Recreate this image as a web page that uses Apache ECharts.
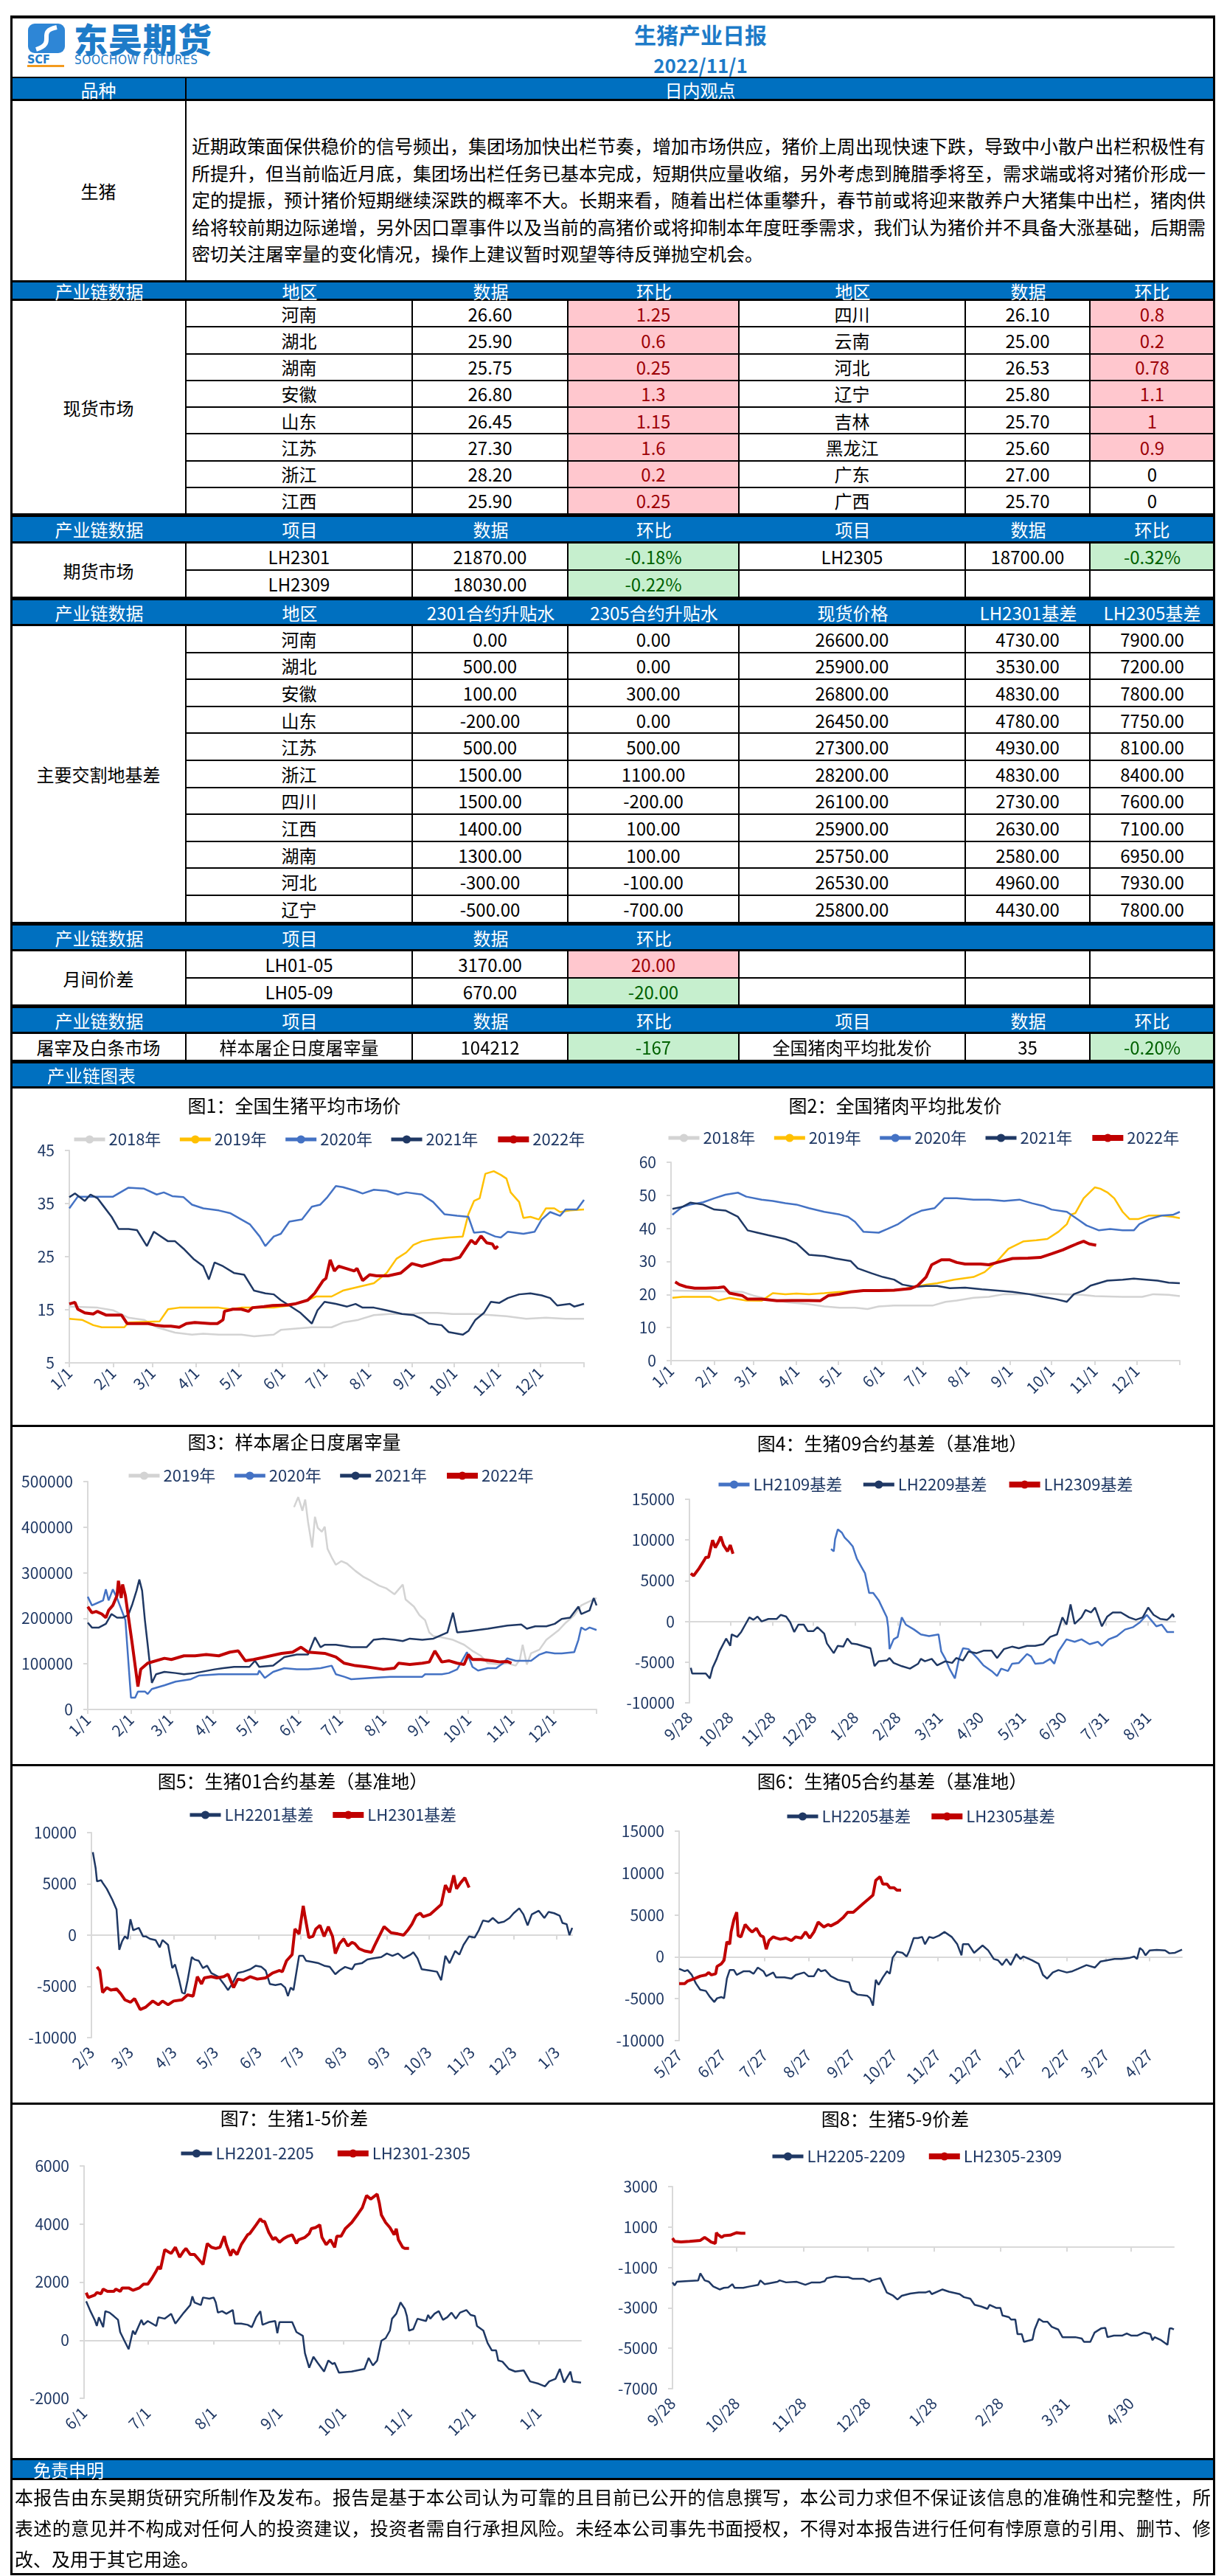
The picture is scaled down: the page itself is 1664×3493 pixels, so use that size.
<!DOCTYPE html>
<html lang="zh-CN">
<head>
<meta charset="utf-8">
<title>生猪产业日报</title>
<script src="https://cdn.jsdelivr.net/npm/echarts@6.0.0/dist/echarts.min.js"></script>
<style>
  body { margin: 0; background: #fff; font-family: "Noto Sans CJK SC", "Noto Sans", sans-serif; }
  #page { position: relative; width: 1664px; height: 3493px; overflow: hidden; }
  .cell { position: absolute; box-sizing: border-box; display: flex; align-items: center; justify-content: center; font-size: 24px; color: #000; white-space: nowrap; }
  .blue { background: #0070C0; }
  .hd { color: #fff; }
  .up { background: #FFC7CE; color: #9C0006; }
  .down { background: #C6EFCE; color: #006100; }
  .ln { position: absolute; box-sizing: border-box; font-size: 25px; white-space: nowrap; text-align: justify; text-align-last: justify; }
  .ln.last { text-align: left; text-align-last: left; }
  .chart { position: absolute; }
  .bar { position: absolute; left: 16px; width: 1630px; height: 3px; background: #000; z-index: 5; }
</style>
</head>
<body>
<div id="page">
  <!-- 标题区 -->
  <div class="cell" style="left:16px;top:21px;width:1630px;height:86px;border-top:4px solid #000;border-bottom:3px solid #000;"></div>
  <svg style="position:absolute;left:36px;top:31px" width="54" height="42" viewBox="0 0 54 42">
    <rect x="2" y="1" width="50" height="40" rx="9" fill="#2E86D6"/>
    <path d="M41 6 C 12 12, 42 27, 13 36" stroke="#fff" stroke-width="6" fill="none"/>
  </svg>
  <div style="position:absolute;left:100px;top:22px;font-size:46px;font-weight:900;color:#1E7BC8;letter-spacing:1px;line-height:58px;">东吴期货</div>
  <div style="position:absolute;left:37px;top:71px;font:bold 16px 'DejaVu Sans Condensed';color:#1E7BC8;">SCF</div>
  <div style="position:absolute;left:37px;top:88px;width:50px;height:3px;background:#F39A1E;"></div>
  <div style="position:absolute;left:101px;top:71px;font:17px 'DejaVu Sans Condensed';color:#1E7BC8;letter-spacing:0.6px;">SOOCHOW FUTURES</div>
  <div class="cell" style="left:650px;top:27px;width:600px;height:38px;font-size:30px;font-weight:bold;color:#1E7BC8;">生猪产业日报</div>
  <div class="cell" style="left:650px;top:72px;width:600px;height:30px;font-size:26px;font-weight:bold;color:#1E7BC8;">2022/11/1</div>

  <div id="c1" class="chart" style="left:16px;top:1475px;width:816px;height:458px;"></div>
  <div id="c2" class="chart" style="left:832px;top:1475px;width:814px;height:458px;"></div>
  <div id="c3" class="chart" style="left:16px;top:1933px;width:816px;height:460px;"></div>
  <div id="c4" class="chart" style="left:832px;top:1933px;width:814px;height:460px;"></div>
  <div id="c5" class="chart" style="left:16px;top:2393px;width:816px;height:459px;"></div>
  <div id="c6" class="chart" style="left:832px;top:2393px;width:814px;height:459px;"></div>
  <div id="c7" class="chart" style="left:16px;top:2852px;width:816px;height:482px;"></div>
  <div id="c8" class="chart" style="left:832px;top:2852px;width:814px;height:482px;"></div>
  <div class="bar" style="top:1932px"></div>
  <div class="bar" style="top:2392px"></div>
  <div class="bar" style="top:2851px"></div>

  <div style="position:absolute;left:14px;top:21px;width:1634px;height:3471px;box-sizing:border-box;border:3px solid #000;z-index:6;pointer-events:none;"></div>
</div>

<script>
// ---------- 日内观点 ----------
const viewLines = [
  '近期政策面保供稳价的信号频出，集团场加快出栏节奏，增加市场供应，猪价上周出现快速下跌，导致中小散户出栏积极性有',
  '所提升，但当前临近月底，集团场出栏任务已基本完成，短期供应量收缩，另外考虑到腌腊季将至，需求端或将对猪价形成一',
  '定的提振，预计猪价短期继续深跌的概率不大。长期来看，随着出栏体重攀升，春节前或将迎来散养户大猪集中出栏，猪肉供',
  '给将较前期边际递增，另外因口罩事件以及当前的高猪价或将抑制本年度旺季需求，我们认为猪价并不具备大涨基础，后期需',
  '密切关注屠宰量的变化情况，操作上建议暂时观望等待反弹抛空机会。'
];
const disclaimLines = [
  '本报告由东吴期货研究所制作及发布。报告是基于本公司认为可靠的且目前已公开的信息撰写，本公司力求但不保证该信息的准确性和完整性，所',
  '表述的意见并不构成对任何人的投资建议，投资者需自行承担风险。未经本公司事先书面授权，不得对本报告进行任何有悖原意的引用、删节、修',
  '改、及用于其它用途。'
];

// ---------- 表格数据 ----------
const hdrSpot = ['产业链数据', '地区', '数据', '环比', '地区', '数据', '环比'];
const hdrItem = ['产业链数据', '项目', '数据', '环比', '项目', '数据', '环比'];
const hdrBasis = ['产业链数据', '地区', '2301合约升贴水', '2305合约升贴水', '现货价格', 'LH2301基差', 'LH2305基差'];
const hdrSpread = ['产业链数据', '项目', '数据', '环比', '', '', ''];

const spotRegionsL = ['河南', '湖北', '湖南', '安徽', '山东', '江苏', '浙江', '江西'];
const spotPricesL = ['26.60', '25.90', '25.75', '26.80', '26.45', '27.30', '28.20', '25.90'];
const spotChgL = ['1.25', '0.6', '0.25', '1.3', '1.15', '1.6', '0.2', '0.25'];
const spotRegionsR = ['四川', '云南', '河北', '辽宁', '吉林', '黑龙江', '广东', '广西'];
const spotPricesR = ['26.10', '25.00', '26.53', '25.80', '25.70', '25.60', '27.00', '25.70'];
const spotChgR = ['0.8', '0.2', '0.78', '1.1', '1', '0.9', '0', '0'];

const futNames = ['LH2301', 'LH2305', 'LH2309'];
const futPrices = ['21870.00', '18700.00', '18030.00'];
const futChg = ['-0.18%', '-0.32%', '-0.22%'];

const basisRegions = ['河南', '湖北', '安徽', '山东', '江苏', '浙江', '四川', '江西', '湖南', '河北', '辽宁'];
const prem2301 = ['0.00', '500.00', '100.00', '-200.00', '500.00', '1500.00', '1500.00', '1400.00', '1300.00', '-300.00', '-500.00'];
const prem2305 = ['0.00', '0.00', '300.00', '0.00', '500.00', '1100.00', '-200.00', '100.00', '100.00', '-100.00', '-700.00'];
const basisSpot = ['26600.00', '25900.00', '26800.00', '26450.00', '27300.00', '28200.00', '26100.00', '25900.00', '25750.00', '26530.00', '25800.00'];
const basis2301 = ['4730.00', '3530.00', '4830.00', '4780.00', '4930.00', '4830.00', '2730.00', '2630.00', '2580.00', '4960.00', '4430.00'];
const basis2305 = ['7900.00', '7200.00', '7800.00', '7750.00', '8100.00', '8400.00', '7600.00', '7100.00', '6950.00', '7930.00', '7800.00'];

const spreadNames = ['LH01-05', 'LH05-09'];
const spreadValues = ['3170.00', '670.00'];
const spreadChg = ['20.00', '-20.00'];

const slaughterItems = ['样本屠企日度屠宰量', '全国猪肉平均批发价'];
const slaughterValues = ['104212', '35'];
const slaughterChg = ['-167', '-0.20%'];

// ---------- 表格绘制 ----------
const colX = [16, 253, 560, 771, 1003, 1310, 1479, 1646];
const page = document.getElementById('page');
const LINE = '2px solid #000';
const THICK = '3px solid #000';

function cell(x, y, w, h, text, cls, css) {
  const d = document.createElement('div');
  d.className = 'cell ' + (cls || '');
  d.style.cssText = `left:${x}px;top:${y}px;width:${w}px;height:${h}px;` + (css || '');
  d.textContent = text;
  page.appendChild(d);
  return d;
}
function tone(v) {
  const n = parseFloat(v);
  return n > 0 ? 'up' : n < 0 ? 'down' : '';
}
function header(y, h, labels) {
  cell(16, y, 1630, h, '', 'blue', `border-top:${THICK};border-bottom:${THICK};`);
  labels.forEach((t, i) => cell(colX[i], y, colX[i + 1] - colX[i], h, t, 'hd'));
}
function rows(top, h, label, data, tones) {
  cell(colX[0], top, colX[1] - colX[0], h * data.length, label, '', `border-right:${LINE};border-bottom:${LINE};`);
  data.forEach((r, j) => {
    const y = top + h * j;
    r.forEach((t, i) => {
      const cls = tones && tones[i] ? tone(t) : '';
      cell(colX[i + 1], y, colX[i + 2] - colX[i + 1], h, t, cls,
        `border-right:${i < 5 ? LINE : 'none'};border-bottom:${LINE};`);
    });
  });
}
function textLine(x, y, w, h, text, cls) {
  const d = document.createElement('div');
  d.className = 'ln ' + (cls || '');
  d.style.cssText = `left:${x}px;top:${y}px;width:${w}px;height:${h}px;line-height:${h}px;`;
  d.textContent = text;
  page.appendChild(d);
}

// 品种 / 日内观点
cell(16, 106, 1630, 31, '', 'blue', `border-bottom:${THICK};`);
cell(16, 106, 237, 31, '品种', 'hd', `border-right:${LINE};`);
cell(253, 106, 1393, 31, '日内观点', 'hd');
cell(16, 137, 237, 243, '生猪', '', `border-right:${LINE};`);
viewLines.forEach((t, i) => textLine(260, 179 + i * 36.5, 1375, 36.5, t, i === viewLines.length - 1 ? 'last' : ''));

// 现货市场
header(380, 28, hdrSpot);
rows(408, 36.25, '现货市场',
  spotRegionsL.map((r, i) => [r, spotPricesL[i], spotChgL[i], spotRegionsR[i], spotPricesR[i], spotChgR[i]]),
  [0, 0, 1, 0, 0, 1]);

// 期货市场
header(698, 39, hdrItem);
rows(737, 37, '期货市场', [
  [futNames[0], futPrices[0], futChg[0], futNames[1], futPrices[1], futChg[1]],
  [futNames[2], futPrices[2], futChg[2], '', '', '']
], [0, 0, 1, 0, 0, 1]);

// 主要交割地基差
header(811, 38, hdrBasis);
rows(849, 36.6, '主要交割地基差',
  basisRegions.map((r, i) => [r, prem2301[i], prem2305[i], basisSpot[i], basis2301[i], basis2305[i]]));

// 月间价差
header(1252, 38, hdrSpread);
rows(1290, 37, '月间价差',
  spreadNames.map((n, i) => [n, spreadValues[i], spreadChg[i], '', '', '']), [0, 0, 1]);

// 屠宰及白条市场
header(1364, 38, hdrItem);
rows(1402, 37, '屠宰及白条市场', [
  [slaughterItems[0], slaughterValues[0], slaughterChg[0], slaughterItems[1], slaughterValues[1], slaughterChg[1]]
], [0, 0, 1, 0, 0, 1]);

// 产业链图表
cell(16, 1439, 1630, 37, '', 'blue', `border-top:${THICK};border-bottom:${THICK};`);
cell(64, 1439, 200, 37, '产业链图表', 'hd', 'justify-content:flex-start;');

// 免责申明
cell(16, 3333, 1630, 30, '', 'blue', `border-top:${THICK};border-bottom:${THICK};`);
cell(45, 3333, 200, 30, '免责申明', 'hd', 'justify-content:flex-start;');
disclaimLines.forEach((t, i) => textLine(20, 3364 + i * 42, 1622, 42, t, i === disclaimLines.length - 1 ? 'last' : ''));

// ---------- 图表数据 ----------
const C2018 = '#D3D3D3', C2019 = '#FFC000', C2020 = '#4472C4', C2021 = '#1F3864', C2022 = '#C00000';
const NAVY = '#1F3864';
const AXIS_GRAY = '#D9D9D9';
const FONT = '"Noto Sans CJK SC", "Noto Sans", sans-serif';

const yearTicks = [0, 31, 59, 90, 120, 151, 181, 212, 243, 273, 304, 334, 365];
const yearLabels = ['1/1', '2/1', '3/1', '4/1', '5/1', '6/1', '7/1', '8/1', '9/1', '10/1', '11/1', '12/1'];

// 图1：全国生猪平均市场价  [日序, 元/公斤]
const c1y2018 = [[0,15.6],[20,15.4],[31,14.9],[42,13.5],[53,13.1],[62,11.7],[75,10.7],[87,10.3],[95,10.5],[106,10.3],[122,10.3],[131,10.0],[145,10.3],[150,11.2],[172,11.7],[186,11.7],[194,12.6],[205,13.1],[216,14.0],[227,14.2],[241,14.2],[250,14.4],[261,14.4],[272,14.2],[288,14.2],[299,14.0],[310,13.8],[324,13.3],[338,13.5],[352,13.3],[365,13.3]];
const c1y2019 = [[0,13.3],[9,13.1],[17,12.1],[23,11.7],[39,11.7],[42,12.6],[64,12.8],[70,15.1],[78,15.4],[106,15.4],[114,15.1],[122,15.4],[145,15.4],[156,15.8],[169,16.8],[175,17.5],[186,17.5],[194,18.6],[205,19.3],[216,20.0],[225,21.9],[232,24.6],[239,25.8],[244,27.2],[250,27.9],[258,28.3],[269,28.6],[279,28.8],[283,33.0],[287,35.5],[291,36.0],[295,40.6],[301,41.1],[306,40.4],[310,39.7],[313,37.1],[319,35.3],[322,32.3],[327,32.5],[333,32.0],[338,34.1],[344,34.1],[348,33.4],[355,33.7],[365,33.9]];
const c1y2020 = [[0,34.1],[6,36.3],[31,36.3],[42,38.0],[53,37.8],[62,36.7],[67,37.1],[73,36.4],[81,36.2],[87,34.8],[95,34.1],[106,33.7],[114,33.2],[122,32.0],[128,31.1],[135,28.8],[139,27.0],[145,28.8],[150,29.3],[156,31.6],[165,32.0],[172,34.4],[178,34.8],[183,36.2],[189,38.3],[194,38.1],[203,37.4],[208,36.9],[216,37.6],[225,37.4],[233,36.7],[239,37.1],[250,36.7],[258,35.3],[266,33.0],[275,32.7],[283,32.5],[287,29.5],[294,29.7],[302,28.8],[306,28.6],[311,29.7],[322,29.3],[330,29.7],[335,32.0],[341,33.4],[348,32.7],[352,33.9],[360,33.9],[365,35.7]];
const c1y2021 = [[0,36.2],[4,36.9],[11,35.5],[15,36.7],[20,36.0],[24,34.6],[30,32.5],[35,30.2],[42,30.2],[48,30.0],[55,27.0],[60,29.7],[70,27.9],[75,27.9],[81,26.5],[88,24.6],[95,23.2],[99,20.7],[103,23.9],[109,23.2],[117,21.9],[124,21.6],[131,18.6],[139,18.1],[145,17.9],[150,16.8],[156,15.8],[164,14.4],[172,12.4],[176,14.9],[181,16.5],[189,16.1],[197,15.6],[203,16.1],[208,15.4],[216,15.4],[225,14.9],[236,14.2],[244,14.0],[250,13.3],[255,12.4],[264,12.1],[269,10.8],[279,10.3],[283,11.0],[288,13.1],[294,14.4],[299,16.5],[305,16.3],[311,17.2],[319,17.9],[327,18.1],[335,17.7],[341,17.2],[346,15.8],[355,16.1],[358,15.6],[365,16.1]];
const c1y2022 = [[0,16.1],[4,16.4],[6,15.1],[11,14.4],[17,14.2],[20,14.7],[26,14.0],[31,14.0],[37,14.0],[41,12.4],[48,12.4],[56,12.4],[61,12.1],[67,11.9],[72,11.9],[78,11.7],[83,12.4],[89,12.6],[100,12.4],[105,12.4],[109,13.1],[110,14.7],[116,15.1],[122,15.1],[127,14.7],[130,15.4],[138,15.6],[144,15.8],[155,15.9],[160,16.1],[169,16.8],[174,18.1],[180,20.5],[182,20.9],[185,24.4],[188,22.3],[191,23.2],[196,22.8],[202,22.3],[204,22.8],[208,20.5],[213,21.6],[218,21.4],[226,21.4],[235,21.9],[243,23.7],[250,23.2],[257,23.7],[265,24.4],[270,24.4],[277,24.9],[281,26.5],[285,28.1],[288,27.4],[292,28.9],[296,27.6],[300,27.4],[302,26.5],[304,27.0]];

// 图2：全国猪肉平均批发价
const c2y2018 = [[1,21.2],[28,21.0],[51,20.8],[59,19.7],[70,18.6],[84,17.6],[98,17.1],[110,16.4],[121,16.0],[132,16.0],[141,15.6],[149,16.4],[160,16.7],[177,16.7],[188,16.7],[197,17.8],[205,18.2],[217,19.0],[228,19.3],[239,20.1],[253,20.1],[267,20.3],[281,20.1],[295,19.9],[304,19.5],[324,19.3],[338,19.3],[346,20.1],[357,19.9],[365,19.5]];
const c2y2019 = [[1,19.0],[8,19.3],[28,19.3],[34,18.2],[42,19.0],[54,18.2],[65,18.1],[73,20.4],[82,20.1],[90,20.3],[99,20.1],[110,20.4],[121,20.8],[132,21.0],[149,21.2],[160,21.2],[175,22.3],[183,23.0],[191,23.4],[203,24.5],[217,25.3],[225,26.8],[234,30.1],[242,33.8],[253,36.1],[262,36.4],[270,36.8],[278,39.0],[284,41.3],[287,44.2],[290,44.6],[296,49.1],[304,52.4],[308,52.0],[313,50.9],[318,49.1],[324,45.0],[329,42.8],[335,42.8],[343,43.9],[352,43.9],[360,43.5],[365,43.1]];
const c2y2020 = [[1,44.1],[8,46.5],[14,47.2],[23,47.9],[31,49.1],[39,50.2],[48,50.8],[54,49.6],[65,48.7],[73,48.3],[82,47.6],[90,47.2],[99,46.1],[110,45.0],[121,44.2],[127,43.5],[132,42.0],[138,39.0],[149,38.7],[155,39.8],[163,41.3],[172,43.9],[180,45.4],[189,46.1],[196,49.1],[205,49.1],[217,48.7],[228,48.7],[239,48.3],[250,48.7],[259,47.6],[267,46.8],[273,45.7],[284,45.0],[293,42.4],[298,40.9],[307,39.4],[315,39.8],[324,39.4],[332,39.4],[336,41.3],[343,42.8],[352,43.9],[360,44.1],[365,45.0]];
const c2y2021 = [[1,45.9],[8,46.5],[14,47.8],[23,47.2],[31,45.7],[39,45.4],[48,43.5],[55,39.4],[62,38.7],[70,37.9],[82,36.8],[90,35.5],[99,32.0],[110,31.6],[118,30.9],[129,30.1],[134,27.9],[144,26.4],[152,25.3],[160,24.5],[166,23.0],[175,22.3],[183,22.6],[191,22.6],[200,21.9],[211,22.1],[223,21.6],[234,21.2],[245,20.8],[257,20.1],[267,19.3],[276,18.6],[284,17.8],[289,20.1],[296,21.2],[301,22.7],[313,24.2],[324,24.5],[332,24.8],[341,24.5],[349,24.2],[357,23.6],[365,23.4]];
const c2y2022 = [[3,23.8],[6,23.0],[11,22.3],[17,21.9],[25,21.9],[34,22.1],[38,22.3],[42,20.4],[51,19.7],[55,18.6],[65,18.6],[76,18.1],[87,18.2],[99,18.2],[107,18.1],[113,19.7],[121,20.1],[129,20.8],[138,21.2],[149,21.2],[160,21.3],[172,21.8],[177,22.7],[183,25.3],[187,29.0],[194,30.5],[200,30.5],[205,29.7],[211,29.2],[222,29.2],[228,29.0],[234,29.7],[245,30.9],[256,31.0],[265,31.2],[273,32.3],[281,33.5],[287,34.6],[291,35.3],[296,36.1],[300,35.3],[305,34.9]];

// 图3：样本屠企日度屠宰量
const c3y2019 = [[148,444000],[151,466000],[154,436000],[156,460600],[158,412000],[161,355300],[163,422800],[165,398500],[168,390000],[170,401000],[172,352600],[175,333700],[178,317500],[182,325600],[186,320000],[192,304000],[198,290500],[203,282400],[209,271600],[214,266000],[220,252700],[226,274000],[228,241600],[234,225700],[238,206800],[242,196000],[245,169000],[248,160900],[254,158200],[262,152800],[270,142000],[276,128500],[282,117700],[287,101500],[296,98800],[301,101500],[307,96100],[310,109600],[312,142000],[315,98800],[318,123100],[324,131300],[329,152800],[338,174400],[343,190600],[349,206800],[354,228400],[365,244600]];
const c3y2020 = [[0,247300],[3,228400],[7,233800],[11,239200],[13,263500],[15,239200],[18,263500],[21,244600],[27,196000],[31,25900],[34,25900],[36,39400],[41,39400],[43,34000],[46,44800],[55,52900],[63,61000],[74,66400],[80,74500],[94,77200],[105,77200],[122,77200],[123,85300],[127,69100],[133,82600],[141,90700],[150,88000],[158,88000],[167,90700],[175,96100],[178,77200],[184,71800],[189,66400],[203,69100],[217,71800],[231,71800],[240,71800],[242,77200],[254,77200],[259,79900],[265,88000],[269,109600],[272,125800],[276,93400],[280,85300],[287,90700],[293,90700],[298,101500],[301,112300],[307,106900],[318,106900],[324,120400],[329,125800],[335,123100],[340,123100],[349,125800],[352,152800],[354,179800],[357,174400],[360,179800],[365,174400]];
const c3y2021 = [[0,190600],[3,179800],[8,179800],[13,187900],[17,209500],[21,201400],[25,201400],[29,206800],[32,231000],[35,260800],[37,285000],[39,260800],[41,196000],[43,142000],[46,58300],[49,77200],[55,82600],[63,79900],[69,77200],[77,79900],[91,88000],[97,90700],[105,93400],[116,93400],[120,106900],[123,93400],[133,96100],[141,115000],[150,120400],[158,120400],[163,158200],[167,136600],[170,142000],[178,142000],[184,139300],[189,136600],[200,136600],[205,152800],[212,155500],[220,152800],[226,150100],[231,155500],[240,152800],[248,155500],[254,163600],[258,169000],[262,212200],[265,169000],[273,171700],[287,177100],[301,184100],[311,186300],[315,177100],[321,182500],[329,182500],[335,187900],[340,198700],[346,201400],[352,225700],[354,209500],[360,217600],[363,244600],[365,228400]];
const c3y2022 = [[0,225700],[3,212200],[6,214900],[10,209500],[13,201400],[15,217600],[18,228400],[21,250000],[22,282400],[24,244600],[25,274300],[27,250000],[32,142000],[36,50200],[38,88000],[43,101500],[55,112300],[60,109600],[69,117700],[77,117700],[85,120400],[94,117700],[102,125800],[108,128500],[113,106900],[119,109600],[127,115000],[139,123100],[147,125800],[153,136600],[158,125800],[170,123100],[178,115000],[184,101500],[192,96100],[200,93400],[212,88000],[220,90700],[223,101500],[231,98800],[240,101500],[245,104200],[249,128500],[254,104200],[259,106900],[265,101500],[270,98800],[273,120400],[276,109600],[282,109600],[290,106900],[296,104200],[301,105300],[304,101500]];

// 图4：生猪09合约基差  [距9/28天数, 元/吨]
const c4Ticks = [0, 30, 61, 91, 122, 153, 184, 214, 245, 275, 306, 337];
const c4Labels = ['9/28', '10/28', '11/28', '12/28', '1/28', '2/28', '3/31', '4/30', '5/31', '6/30', '7/31', '8/31'];
const c4lh2109 = [[104,8900],[106,8600],[107,10100],[109,11300],[112,10900],[114,10300],[117,9800],[120,9200],[123,7700],[127,6500],[129,5900],[132,3500],[135,3500],[139,2600],[145,500],[146,-700],[147,-3400],[150,-2200],[153,-1900],[156,500],[159,-400],[165,-1000],[170,-1600],[176,-1800],[183,-1600],[185,-3700],[188,-4600],[191,-5800],[195,-7000],[198,-4600],[201,-3300],[205,-3400],[212,-4600],[216,-5400],[222,-6100],[226,-6700],[229,-5800],[234,-6100],[237,-5200],[242,-5100],[248,-4000],[251,-4300],[254,-5200],[260,-5100],[265,-4600],[268,-5200],[271,-3700],[277,-2200],[283,-2500],[288,-2200],[294,-2800],[300,-2500],[303,-3000],[308,-2200],[314,-1800],[320,-1000],[326,-700],[331,-100],[336,800],[339,200],[343,-600],[347,-400],[351,-1300],[356,-1300]];
const c4lh2209 = [[1,-5700],[2,-6400],[12,-6400],[15,-7000],[17,-5700],[20,-4600],[22,-3700],[27,-2100],[30,-3000],[31,-1600],[35,-1900],[38,-1300],[41,-400],[44,500],[47,200],[50,600],[53,0],[58,300],[64,300],[67,800],[71,600],[74,-100],[77,-1300],[80,-400],[84,-400],[87,-1200],[91,-1200],[94,-700],[99,-1500],[101,-2700],[106,-3900],[109,-3000],[113,-3100],[116,-2100],[119,-2700],[123,-2800],[127,-3000],[133,-3300],[136,-5500],[139,-4900],[145,-4800],[147,-4500],[150,-5100],[156,-5500],[162,-5800],[168,-5200],[170,-4600],[173,-4900],[178,-4600],[182,-5400],[188,-4900],[193,-5100],[196,-4500],[201,-4800],[205,-3700],[211,-3900],[216,-3600],[222,-3600],[226,-4500],[231,-3400],[237,-3100],[242,-3300],[248,-3000],[254,-3000],[260,-2800],[265,-1900],[270,-1600],[274,500],[277,-400],[280,2100],[283,-300],[288,500],[291,1400],[295,1100],[298,1700],[303,-600],[307,600],[311,1100],[317,1100],[323,500],[328,200],[333,500],[337,1700],[341,800],[346,300],[351,200],[353,500],[355,900],[356,500]];
const c4lh2309 = [[1,5900],[3,5600],[7,6500],[11,7560],[12,7860],[14,7860],[17,9970],[19,9070],[21,9670],[23,10420],[25,9370],[28,8610],[30,9370],[32,8310]];

// 图5：生猪01合约基差  [距2/3天数]
const c5Ticks = [0, 28, 59, 89, 120, 150, 181, 212, 242, 273, 303, 334];
const c5Labels = ['2/3', '3/3', '4/3', '5/3', '6/3', '7/3', '8/3', '9/3', '10/3', '11/3', '12/3', '1/3'];
const c5lh2201 = [[1,8100],[3,6550],[4,5240],[7,5360],[8,5120],[11,4520],[15,3450],[18,2500],[20,-1430],[22,-600],[24,-120],[26,-360],[28,1550],[30,480],[34,710],[37,-120],[39,-120],[42,-360],[46,-480],[49,-1190],[51,-480],[53,-710],[55,-950],[58,-3210],[60,-2860],[63,-4400],[65,-5600],[67,-5710],[69,-4400],[72,-2140],[74,-2380],[77,-2500],[80,-3210],[83,-2980],[86,-3690],[91,-4050],[95,-4760],[98,-5360],[101,-4760],[105,-3690],[109,-3570],[114,-3330],[118,-2980],[122,-3100],[125,-3450],[128,-4760],[132,-4880],[136,-4760],[139,-5120],[141,-5950],[143,-5120],[145,-5360],[147,-3690],[149,-2020],[152,-2020],[154,-2500],[159,-2620],[163,-2740],[167,-2980],[171,-3100],[175,-3810],[178,-3450],[182,-3100],[187,-3330],[189,-2860],[194,-2740],[198,-2380],[202,-2260],[208,-2140],[212,-1790],[216,-2020],[220,-1790],[224,-2260],[229,-1900],[231,-1670],[234,-2260],[237,-3330],[243,-3450],[248,-3570],[251,-4400],[254,-2020],[257,-2740],[261,-1550],[264,-1900],[267,-950],[271,-120],[275,-240],[278,480],[281,1430],[285,1310],[288,1670],[292,1190],[296,1310],[300,1670],[303,2140],[307,2620],[310,2020],[313,950],[316,2020],[321,2380],[325,1670],[328,2260],[332,2140],[336,1900],[338,1190],[341,1070],[343,0],[345,710]];
const c5lh2301 = [[4,-3100],[6,-3450],[8,-5600],[11,-5120],[14,-5360],[18,-5240],[21,-5710],[24,-6310],[28,-6550],[31,-6190],[35,-7260],[39,-7020],[44,-6430],[48,-6790],[51,-6430],[55,-6790],[59,-6430],[65,-6310],[69,-5830],[73,-5950],[76,-4050],[79,-4760],[81,-4170],[86,-4050],[90,-4170],[95,-4050],[98,-3810],[102,-5120],[105,-4290],[109,-4400],[114,-4050],[119,-4290],[125,-4170],[130,-3690],[135,-3450],[137,-3570],[140,-2500],[144,-1900],[146,600],[149,120],[152,2860],[153,2020],[156,-240],[159,-120],[161,600],[164,950],[167,-120],[170,830],[173,-120],[175,-1790],[178,-830],[181,-360],[184,-1070],[187,-710],[189,-830],[192,-1310],[196,-1550],[201,-1670],[203,-1070],[206,-240],[210,830],[215,240],[220,120],[224,0],[227,480],[230,1070],[233,1900],[236,2140],[238,1790],[243,2020],[247,2500],[251,2980],[254,4880],[257,4170],[260,5830],[262,4520],[265,5120],[268,5600],[271,4640]];

// 图6：生猪05合约基差  [距5/27天数]
const c6Ticks = [0, 31, 61, 92, 123, 153, 184, 214, 245, 276, 304, 335];
const c6Labels = ['5/27', '6/27', '7/27', '8/27', '9/27', '10/27', '11/27', '12/27', '1/27', '2/27', '3/27', '4/27'];
const c6lh2205 = [[0,-1430],[4,-1720],[6,-1580],[9,-2160],[12,-3190],[15,-3920],[19,-4070],[22,-4800],[25,-5390],[27,-4950],[30,-4800],[32,-4950],[34,-2600],[36,-1580],[39,-1580],[41,-2160],[46,-1720],[50,-1720],[53,-2020],[56,-1280],[60,-1720],[62,-2310],[67,-1870],[69,-2460],[75,-2460],[80,-2600],[83,-2160],[89,-1870],[92,-2310],[96,-2310],[99,-1430],[101,-1720],[104,-1580],[108,-2310],[113,-2750],[117,-2900],[121,-3040],[123,-4070],[127,-4510],[134,-4660],[136,-4950],[138,-5830],[140,-2750],[142,-3340],[145,-2460],[148,-1720],[150,-2020],[152,-110],[155,620],[159,480],[162,40],[164,770],[167,2240],[170,2240],[173,2380],[175,1500],[178,2380],[181,2240],[185,2530],[189,2970],[194,2380],[198,1500],[201,180],[202,1500],[206,1500],[210,480],[216,1360],[220,770],[224,-260],[227,-400],[230,-990],[233,-260],[236,-990],[240,330],[243,-260],[245,40],[251,-400],[256,-840],[259,-2160],[262,-2600],[266,-1870],[270,-1580],[276,-1870],[280,-1720],[284,-1430],[290,-990],[296,-1280],[300,-550],[305,-400],[310,-260],[315,-260],[321,-110],[324,40],[326,-260],[328,1060],[330,770],[332,180],[335,770],[340,830],[346,770],[349,420],[353,480],[358,860]];
const c6lh2305 = [[0,-3190],[4,-3190],[6,-2900],[11,-2600],[15,-2310],[19,-2160],[21,-1870],[23,-2160],[26,-2020],[27,-1140],[30,-840],[32,-400],[34,1800],[36,1500],[37,2970],[39,4440],[41,5320],[42,2530],[44,2380],[47,3850],[50,3260],[52,2970],[55,3410],[58,2530],[60,2380],[62,910],[64,1940],[67,2380],[69,2240],[72,2090],[76,2240],[80,1940],[83,2380],[87,2240],[90,2970],[93,2240],[96,2970],[99,4140],[103,3560],[106,3850],[108,3700],[113,4140],[117,4730],[120,5320],[124,5320],[127,5760],[131,6350],[135,6930],[138,7370],[140,9130],[143,9570],[145,8690],[148,8690],[150,8250],[153,8250],[155,7960],[158,7960]];

// 图7：生猪1-5价差  [距6/1天数]
const c7Ticks = [0, 30, 61, 92, 122, 153, 183, 214];
const c7Labels = ['6/1', '7/1', '8/1', '9/1', '10/1', '11/1', '12/1', '1/1'];
const c7lh2201 = [[1,1340],[3,1000],[5,700],[6,490],[7,790],[9,450],[10,1000],[12,950],[14,830],[16,700],[17,280],[19,-20],[21,-310],[23,330],[24,200],[27,700],[28,530],[30,660],[34,490],[35,790],[38,740],[41,910],[43,570],[47,950],[50,1210],[51,1510],[52,1300],[55,1210],[56,1470],[59,1430],[61,1470],[62,1300],[63,950],[65,1000],[67,910],[70,1040],[71,570],[74,570],[77,530],[79,450],[81,790],[83,1000],[84,530],[87,620],[90,660],[91,240],[92,620],[98,620],[100,280],[103,150],[104,-450],[106,-950],[108,-570],[110,-780],[113,-1080],[115,-700],[117,-820],[118,-780],[120,-1120],[126,-1080],[132,-990],[134,-610],[136,-870],[138,-700],[140,-20],[142,70],[144,330],[145,740],[147,910],[149,1300],[151,1080],[152,830],[153,330],[155,380],[157,740],[159,700],[161,660],[162,870],[163,740],[165,910],[167,1000],[169,700],[171,790],[173,950],[175,740],[177,950],[180,1040],[182,870],[184,830],[185,490],[188,330],[190,-100],[192,-350],[194,-350],[195,-700],[197,-740],[200,-990],[203,-1080],[207,-1040],[210,-1420],[214,-1500],[217,-1590],[219,-1420],[222,-1330],[224,-990],[226,-1460],[229,-1080],[230,-1420],[234,-1460]];
const c7lh2301 = [[1,1635],[2,1470],[5,1550],[6,1640],[8,1600],[9,1760],[11,1680],[14,1680],[15,1760],[17,1680],[18,1800],[21,1800],[23,1720],[26,1800],[28,1930],[30,1930],[32,2140],[34,2390],[35,2530],[36,2450],[38,3120],[40,3030],[41,2990],[43,3200],[44,3030],[45,2860],[47,3080],[48,3160],[50,2950],[52,2950],[54,2780],[56,2610],[58,3330],[60,3200],[62,3160],[64,3200],[66,3580],[67,3290],[69,2910],[70,3120],[72,2950],[74,3290],[77,3630],[78,3670],[81,3970],[83,4180],[84,4090],[85,4090],[87,3710],[89,3460],[90,3540],[92,3370],[94,3500],[96,3580],[98,3630],[100,3330],[101,3460],[104,3540],[106,3670],[107,3840],[109,3880],[111,3970],[112,3540],[114,3290],[116,3460],[118,3200],[119,3580],[121,3580],[123,3840],[126,4050],[129,4350],[131,4560],[133,4980],[135,4860],[138,5030],[139,4730],[140,4310],[142,4050],[144,3880],[146,3630],[147,3840],[148,3460],[150,3200],[151,3160],[153,3160]];

// 图8：生猪5-9价差  [距9/28天数]
const c8Ticks = [0, 30, 61, 91, 122, 153, 184, 214];
const c8Labels = ['9/28', '10/28', '11/28', '12/28', '1/28', '2/28', '3/31', '4/30'];
const c8lh2205 = [[0,-1740],[1,-1890],[2,-1710],[6,-1680],[12,-1640],[13,-1290],[15,-1640],[17,-1710],[19,-1940],[22,-2090],[24,-2010],[26,-1990],[28,-1830],[29,-2010],[33,-2010],[36,-1940],[40,-1860],[41,-1640],[43,-1830],[45,-1790],[49,-1710],[50,-1640],[53,-1740],[58,-1710],[62,-1860],[65,-1740],[69,-1740],[71,-1680],[72,-1530],[76,-1440],[79,-1480],[82,-1480],[84,-1560],[89,-1560],[92,-1710],[93,-1640],[97,-1530],[100,-2240],[103,-2400],[105,-2590],[107,-2400],[111,-2290],[115,-2240],[118,-2240],[120,-2170],[121,-2320],[126,-2090],[129,-2200],[134,-2320],[136,-2470],[139,-2550],[141,-2850],[144,-2930],[147,-3050],[148,-2850],[151,-3000],[153,-3000],[154,-3380],[157,-3460],[158,-3580],[160,-3580],[161,-4300],[163,-4300],[164,-4680],[168,-4570],[169,-4070],[171,-3540],[173,-3690],[175,-3690],[177,-3940],[180,-4070],[182,-4450],[188,-4450],[191,-4520],[192,-4680],[195,-4680],[197,-4220],[200,-4020],[202,-3990],[203,-4450],[206,-4370],[210,-4370],[212,-4270],[214,-4370],[217,-4370],[220,-4220],[223,-4300],[224,-4600],[225,-4450],[228,-4600],[231,-4830],[232,-4020],[233,-4020],[234,-4070]];
const c8lh2305 = [[0,450],[1,290],[4,260],[8,290],[13,340],[15,490],[17,340],[18,260],[20,190],[20.5,720],[21,640],[23,490],[24,570],[27,600],[28,640],[30,720],[32,690],[34,690]];

// ---------- 图表绘制 ----------
function drawChart(id, o) {
  const chart = echarts.init(document.getElementById(id));
  const fmt = v => {
    const i = o.xTicks.indexOf(v);
    return i >= 0 && i < o.xLabels.length ? o.xLabels[i] : '';
  };
  const labelStyle = { color: NAVY, fontSize: 21, fontFamily: FONT };
  const axisLineStyle = { color: AXIS_GRAY, width: 2 };
  const baseX = { type: 'value', min: o.xMin || 0, max: o.xMax, position: 'bottom', splitLine: { show: false } };
  const xLabel = Object.assign({
    rotate: 45, margin: o.zeroLine ? 16 : 10,
    customValues: o.xTicks.slice(0, o.xLabels.length), formatter: fmt
  }, labelStyle);
  let xAxis;
  if (o.zeroLine) {
    xAxis = [
      Object.assign({}, baseX, {
        axisLine: { show: true, onZero: true, lineStyle: axisLineStyle },
        axisTick: { show: true, length: 6, customValues: o.xTicks, lineStyle: axisLineStyle },
        axisLabel: { show: false }
      }),
      Object.assign({}, baseX, {
        axisLine: { show: false, onZero: false },
        axisTick: { show: false },
        axisLabel: xLabel
      })
    ];
  } else {
    xAxis = [Object.assign({}, baseX, {
      axisLine: { show: true, onZero: false, lineStyle: axisLineStyle },
      axisTick: { show: true, length: 6, customValues: o.xTicks, lineStyle: axisLineStyle },
      axisLabel: xLabel
    })];
  }
  chart.setOption({
    animation: false,
    title: {
      text: o.title, left: o.titleX, top: o.titleY, textAlign: 'center',
      textStyle: { fontSize: 25, fontWeight: 'normal', color: '#000', fontFamily: FONT }
    },
    legend: {
      left: o.legendX, top: o.legendY, itemWidth: 42, itemHeight: 14, itemGap: o.legendGap,
      textStyle: { color: NAVY, fontSize: 22, fontFamily: FONT },
      data: o.series.map(s => ({ name: s.name, lineStyle: { width: s.width > 3 ? 8 : 5 } }))
    },
    grid: o.grid,
    xAxis: xAxis,
    yAxis: {
      type: 'value', min: o.yMin, max: o.yMax,
      splitLine: { show: false },
      axisLine: { show: true, onZero: false, lineStyle: axisLineStyle },
      axisTick: { show: true, length: 6, customValues: o.yTicks, lineStyle: axisLineStyle },
      axisLabel: Object.assign({ margin: 20, customValues: o.yTicks, formatter: v => String(v) }, labelStyle)
    },
    series: o.series.map(s => ({
      type: 'line', name: s.name, data: s.data, xAxisIndex: 0,
      symbol: 'none', smooth: false,
      lineStyle: { color: s.color, width: s.width },
      itemStyle: { color: s.color }
    }))
  });
}

drawChart('c1', {
  title: '图1：全国生猪平均市场价', titleX: 378, titleY: 7,
  legendX: 77, legendY: 54, legendGap: 23,
  grid: { left: 78, right: 40, top: 85, bottom: 85 },
  xMax: 365, xTicks: yearTicks, xLabels: yearLabels,
  yMin: 5, yMax: 45, yTicks: [5, 15, 25, 35, 45],
  series: [
    { name: '2018年', data: c1y2018, color: C2018, width: 2.5 },
    { name: '2019年', data: c1y2019, color: C2019, width: 2.5 },
    { name: '2020年', data: c1y2020, color: C2020, width: 2.5 },
    { name: '2021年', data: c1y2021, color: C2021, width: 2.5 },
    { name: '2022年', data: c1y2022, color: C2022, width: 4 }
  ]
});

drawChart('c2', {
  title: '图2：全国猪肉平均批发价', titleX: 377, titleY: 7,
  legendX: 67, legendY: 52, legendGap: 23,
  grid: { left: 78, right: 46, top: 101, bottom: 88 },
  xMax: 365, xTicks: yearTicks, xLabels: yearLabels,
  yMin: 0, yMax: 60, yTicks: [0, 10, 20, 30, 40, 50, 60],
  series: [
    { name: '2018年', data: c2y2018, color: C2018, width: 2.5 },
    { name: '2019年', data: c2y2019, color: C2019, width: 2.5 },
    { name: '2020年', data: c2y2020, color: C2020, width: 2.5 },
    { name: '2021年', data: c2y2021, color: C2021, width: 2.5 },
    { name: '2022年', data: c2y2022, color: C2022, width: 4 }
  ]
});

drawChart('c3', {
  title: '图3：样本屠企日度屠宰量', titleX: 378, titleY: 5,
  legendX: 151, legendY: 52, legendGap: 23,
  grid: { left: 103, right: 23, top: 76, bottom: 75 },
  xMax: 365, xTicks: yearTicks, xLabels: yearLabels,
  yMin: 0, yMax: 500000, yTicks: [0, 100000, 200000, 300000, 400000, 500000],
  series: [
    { name: '2019年', data: c3y2019, color: C2018, width: 2.5 },
    { name: '2020年', data: c3y2020, color: C2020, width: 2.5 },
    { name: '2021年', data: c3y2021, color: C2021, width: 2.5 },
    { name: '2022年', data: c3y2022, color: C2022, width: 4 }
  ]
});

drawChart('c4', {
  title: '图4：生猪09合约基差（基准地）', titleX: 373, titleY: 7,
  legendX: 135, legendY: 64, legendGap: 26,
  grid: { left: 103, right: 52, top: 100, bottom: 84 },
  zeroLine: true,
  xMax: 357, xTicks: c4Ticks, xLabels: c4Labels,
  yMin: -10000, yMax: 15000, yTicks: [-10000, -5000, 0, 5000, 10000, 15000],
  series: [
    { name: 'LH2109基差', data: c4lh2109, color: C2020, width: 2.5 },
    { name: 'LH2209基差', data: c4lh2209, color: C2021, width: 2.5 },
    { name: 'LH2309基差', data: c4lh2309, color: C2022, width: 4 }
  ]
});

drawChart('c5', {
  title: '图5：生猪01合约基差（基准地）', titleX: 376, titleY: 5,
  legendX: 234, legendY: 52, legendGap: 22,
  grid: { left: 108, right: 56, top: 92, bottom: 89 },
  zeroLine: true,
  xMax: 345, xTicks: c5Ticks, xLabels: c5Labels,
  yMin: -10000, yMax: 10000, yTicks: [-10000, -5000, 0, 5000, 10000],
  series: [
    { name: 'LH2201基差', data: c5lh2201, color: C2021, width: 2.5 },
    { name: 'LH2301基差', data: c5lh2301, color: C2022, width: 4 }
  ]
});

drawChart('c6', {
  title: '图6：生猪05合约基差（基准地）', titleX: 373, titleY: 5,
  legendX: 228, legendY: 54, legendGap: 24,
  grid: { left: 89, right: 43, top: 90, bottom: 85 },
  zeroLine: true,
  xMax: 358, xTicks: c6Ticks, xLabels: c6Labels,
  yMin: -10000, yMax: 15000, yTicks: [-10000, -5000, 0, 5000, 10000, 15000],
  series: [
    { name: 'LH2205基差', data: c6lh2205, color: C2021, width: 2.5 },
    { name: 'LH2305基差', data: c6lh2305, color: C2022, width: 4 }
  ]
});

drawChart('c7', {
  title: '图7：生猪1-5价差', titleX: 378, titleY: 3,
  legendX: 222, legendY: 52, legendGap: 28,
  grid: { left: 98, right: 44, top: 85, bottom: 82 },
  zeroLine: true,
  xMax: 234, xTicks: c7Ticks, xLabels: c7Labels,
  yMin: -2000, yMax: 6000, yTicks: [-2000, 0, 2000, 4000, 6000],
  series: [
    { name: 'LH2201-2205', data: c7lh2201, color: C2021, width: 2.5 },
    { name: 'LH2301-2305', data: c7lh2301, color: C2022, width: 4 }
  ]
});

drawChart('c8', {
  title: '图8：生猪5-9价差', titleX: 377, titleY: 4,
  legendX: 208, legendY: 56, legendGap: 28,
  grid: { left: 80, right: 54, top: 113, bottom: 95 },
  zeroLine: true,
  xMax: 234, xTicks: c8Ticks, xLabels: c8Labels,
  yMin: -7000, yMax: 3000, yTicks: [-7000, -5000, -3000, -1000, 1000, 3000],
  series: [
    { name: 'LH2205-2209', data: c8lh2205, color: C2021, width: 2.5 },
    { name: 'LH2305-2309', data: c8lh2305, color: C2022, width: 4 }
  ]
});
</script>
</body>
</html>
